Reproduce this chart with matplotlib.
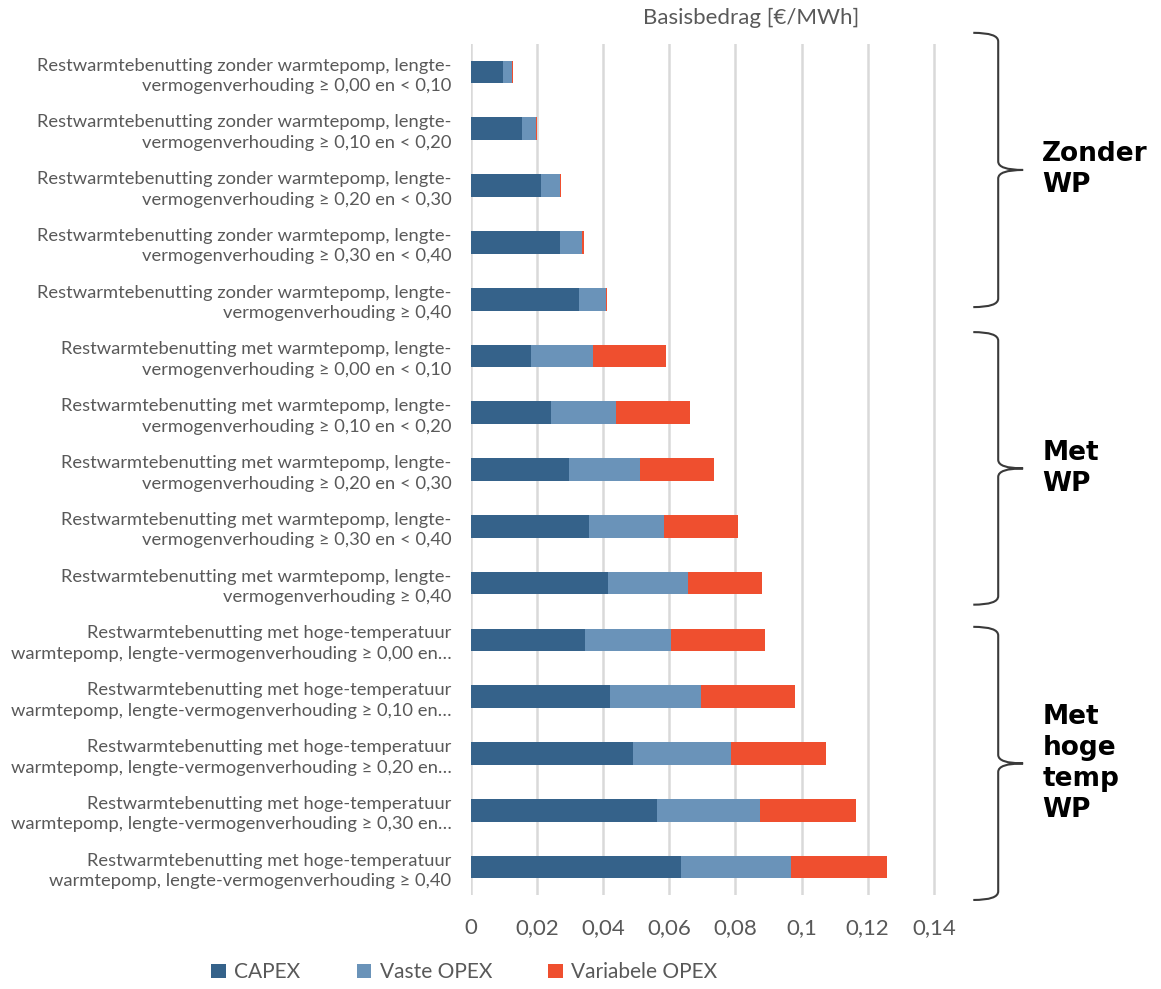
import matplotlib.pyplot as plt
from matplotlib.path import Path
from matplotlib.patches import PathPatch, Patch
from matplotlib.transforms import blended_transform_factory

plt.rcParams["font.family"] = ["Lato", "DejaVu Sans"]

categories = [
    "Restwarmtebenutting zonder warmtepomp, lengte-\nvermogenverhouding ≥ 0,00 en < 0,10",
    "Restwarmtebenutting zonder warmtepomp, lengte-\nvermogenverhouding ≥ 0,10 en < 0,20",
    "Restwarmtebenutting zonder warmtepomp, lengte-\nvermogenverhouding ≥ 0,20 en < 0,30",
    "Restwarmtebenutting zonder warmtepomp, lengte-\nvermogenverhouding ≥ 0,30 en < 0,40",
    "Restwarmtebenutting zonder warmtepomp, lengte-\nvermogenverhouding ≥ 0,40",
    "Restwarmtebenutting met warmtepomp, lengte-\nvermogenverhouding ≥ 0,00 en < 0,10",
    "Restwarmtebenutting met warmtepomp, lengte-\nvermogenverhouding ≥ 0,10 en < 0,20",
    "Restwarmtebenutting met warmtepomp, lengte-\nvermogenverhouding ≥ 0,20 en < 0,30",
    "Restwarmtebenutting met warmtepomp, lengte-\nvermogenverhouding ≥ 0,30 en < 0,40",
    "Restwarmtebenutting met warmtepomp, lengte-\nvermogenverhouding ≥ 0,40",
    "Restwarmtebenutting met hoge-temperatuur\nwarmtepomp, lengte-vermogenverhouding ≥ 0,00 en…",
    "Restwarmtebenutting met hoge-temperatuur\nwarmtepomp, lengte-vermogenverhouding ≥ 0,10 en…",
    "Restwarmtebenutting met hoge-temperatuur\nwarmtepomp, lengte-vermogenverhouding ≥ 0,20 en…",
    "Restwarmtebenutting met hoge-temperatuur\nwarmtepomp, lengte-vermogenverhouding ≥ 0,30 en…",
    "Restwarmtebenutting met hoge-temperatuur\nwarmtepomp, lengte-vermogenverhouding ≥ 0,40",
]

capex = [0.0098, 0.0155, 0.0211, 0.0270, 0.0327,
         0.0182, 0.0241, 0.0297, 0.0357, 0.0414,
         0.0346, 0.0420, 0.0489, 0.0562, 0.0634]
vaste_opex = [0.0027, 0.0042, 0.0057, 0.0067, 0.0082,
              0.0188, 0.0198, 0.0214, 0.0227, 0.0243,
              0.0260, 0.0276, 0.0297, 0.0312, 0.0333]
variabele_opex = [0.0003, 0.0003, 0.0003, 0.0004, 0.0003,
                  0.0221, 0.0225, 0.0225, 0.0225, 0.0223,
                  0.0284, 0.0284, 0.0287, 0.0292, 0.0291]

series_names = ["CAPEX", "Vaste OPEX", "Variabele OPEX"]
colors = ["#35628a", "#6a93b9", "#ef4f2f"]

# group labels and the span of each brace (in category units)
group_labels = ["Zonder\nWP", "Met\nWP", "Met\nhoge\ntemp\nWP"]
brace_spans = [(-0.69, 4.14), (4.58, 9.38), (9.77, 14.58)]

xticks = [0, 0.02, 0.04, 0.06, 0.08, 0.1, 0.12, 0.14]
xtick_labels = ["0", "0,02", "0,04", "0,06", "0,08", "0,1", "0,12", "0,14"]

text_grey = "#595959"

fig = plt.figure(figsize=(11.61, 9.89), dpi=100)
ax = fig.add_axes([0.4057, 0.0946, 0.4128, 0.8613])

y = list(range(len(categories)))
left = [0.0] * len(categories)
for vals, name, color in zip([capex, vaste_opex, variabele_opex], series_names, colors):
    ax.barh(y, vals, left=left, height=0.4, color=color, label=name, zorder=3)
    left = [l + v for l, v in zip(left, vals)]

ax.set_xlim(0, 0.145)
ax.set_ylim(len(categories) - 0.5, -0.5)
ax.set_xticks(xticks)
ax.set_xticklabels(xtick_labels)
ax.set_yticks(y)
ax.set_yticklabels(categories, fontsize=13.2, color=text_grey, linespacing=1.35)
ax.tick_params(axis="x", length=0, pad=16, labelsize=16, labelcolor=text_grey)
ax.tick_params(axis="y", length=0, pad=14)
ax.grid(axis="x", color="#d9d9d9", linewidth=1.8, zorder=0)
ax.set_axisbelow(True)
for s in ax.spines.values():
    s.set_visible(False)

fig.text(0.647, 0.982, "Basisbedrag [€/MWh]", ha="center", va="center",
         fontsize=16, color=text_grey)

# curly braces on the right, x in axes fraction, y in category units
trans = blended_transform_factory(ax.transAxes, ax.transData)
x0, x1, x2 = 1.048, 1.100, 1.152
r = 0.15
for (yt, yb), label in zip(brace_spans, group_labels):
    ym = (yt + yb) / 2
    verts = [(x0, yt), (x1, yt), (x1, yt + r),
             (x1, ym - r), (x1, ym), (x2, ym),
             (x1, ym), (x1, ym + r),
             (x1, yb - r), (x1, yb), (x0, yb)]
    codes = [Path.MOVETO, Path.CURVE3, Path.CURVE3,
             Path.LINETO, Path.CURVE3, Path.CURVE3,
             Path.CURVE3, Path.CURVE3,
             Path.LINETO, Path.CURVE3, Path.CURVE3]
    ax.add_patch(PathPatch(Path(verts, codes), transform=trans, fill=False,
                           edgecolor="#3a3a3a", linewidth=1.5, clip_on=False))
    ax.text(1.192, ym, label, transform=trans, ha="left", va="center",
            fontsize=19, fontweight="bold", color="black", linespacing=1.25,
            family="DejaVu Sans")

handles = [Patch(facecolor=c, label=n) for c, n in zip(colors, series_names)]
fig.legend(handles=handles, loc="center", bbox_to_anchor=(0.40, 0.017), ncol=3,
           frameon=False, fontsize=15, labelcolor=text_grey,
           handlelength=0.7, handleheight=0.7, handletextpad=0.4, columnspacing=2.7)

fig.savefig("out.png", dpi=100)
